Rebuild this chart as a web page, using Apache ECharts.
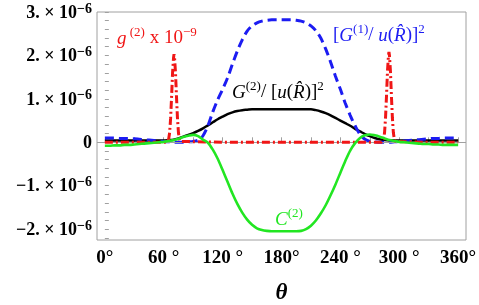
<!DOCTYPE html>
<html><head><meta charset="utf-8">
<script src="https://cdn.jsdelivr.net/npm/echarts@6/dist/echarts.min.js"></script>
<style>html,body{margin:0;padding:0;background:#fff}#c{width:479px;height:305px}</style>
</head><body><div id="c"></div>
<script>
// angle theta in degrees
const theta = [0,5,10,15,20,25,30,35,40,45,50,55,60,65,70,75,80,85,90,95,100,105,110,115,120,125,130,135,140,145,150,155,160,165,170,175,180,185,190,195,200,205,210,215,220,225,230,235,240,245,250,255,260,265,270,275,280,285,290,295,300,305,310,315,320,325,330,335,340,345,350,355,360];
// values in units of 1e-6
const g1Sq = [0.10,0.10,0.10,0.09,0.09,0.08,0.08,0.07,0.06,0.05,0.04,0.03,0.02,0.01,0.00,0.00,0.00,0.01,0.02,0.05,0.15,0.38,0.70,0.98,1.22,1.48,1.80,2.10,2.36,2.56,2.68,2.75,2.79,2.81,2.82,2.82,2.82,2.82,2.82,2.81,2.79,2.75,2.68,2.57,2.40,2.15,1.85,1.52,1.22,0.90,0.62,0.38,0.18,0.07,0.02,0.01,0.00,0.00,0.00,0.01,0.02,0.03,0.04,0.05,0.06,0.07,0.08,0.09,0.09,0.10,0.10,0.10,0.10];
const g2Norm = [0.04,0.04,0.04,0.04,0.04,0.04,0.04,0.04,0.04,0.04,0.04,0.04,0.04,0.05,0.06,0.09,0.13,0.17,0.21,0.26,0.32,0.39,0.46,0.53,0.59,0.65,0.69,0.72,0.74,0.75,0.76,0.76,0.76,0.76,0.76,0.76,0.76,0.76,0.76,0.76,0.76,0.76,0.76,0.74,0.71,0.67,0.62,0.56,0.50,0.44,0.38,0.31,0.25,0.19,0.14,0.10,0.07,0.05,0.04,0.04,0.04,0.04,0.04,0.04,0.04,0.04,0.04,0.04,0.04,0.04,0.04,0.04,0.04];
const c2 = [-0.08,-0.08,-0.07,-0.07,-0.06,-0.06,-0.05,-0.04,-0.03,-0.02,-0.01,0.00,0.01,0.03,0.05,0.08,0.12,0.15,0.17,0.14,0.06,-0.01,-0.17,-0.38,-0.64,-0.91,-1.18,-1.42,-1.62,-1.78,-1.90,-1.98,-2.02,-2.04,-2.05,-2.05,-2.05,-2.05,-2.05,-2.05,-2.04,-2.00,-1.92,-1.80,-1.64,-1.45,-1.22,-0.97,-0.70,-0.43,-0.19,-0.02,0.10,0.16,0.18,0.16,0.13,0.09,0.05,0.03,0.01,0.00,-0.01,-0.02,-0.03,-0.04,-0.04,-0.05,-0.05,-0.06,-0.06,-0.06,-0.06];
const redTheta = [0,30,60,63,64,65,66,67,68,69,70,70.5,71,72,73,74,75,76,77,78,120,180,240,282,283,284,285,286,287,288,289,289.5,290,291,292,293,294,295,296,297,330,360];
const g2Scaled = [0,0,0,0,0.02,0.07,0.22,0.55,1.05,1.60,1.95,2.03,1.95,1.60,1.05,0.55,0.22,0.07,0.02,0,0,0,0,0,0.02,0.07,0.22,0.56,1.07,1.64,2.00,2.08,2.00,1.64,1.07,0.56,0.22,0.07,0.02,0,0,0];
const xLabelValues = [0,60,120,180,240,300,360];
const xLabelText = ['0°','60 °','120 °','180°','240 °','300 °','360°'];
const xTickValues = [0,30,60,90,120,150,180,210,240,270,300,330,360];
const yLabelValues = [-2,-1,0,1,2,3];
const yTickValues = [-2.2,-2,-1.8,-1.6,-1.4,-1.2,-1,-0.8,-0.6,-0.4,-0.2,0,0.2,0.4,0.6,0.8,1,1.2,1.4,1.6,1.8,2,2.2,2.4,2.6,2.8,3];

const SERIF = 'Liberation Serif';
const pair = (xs, ys) => xs.map((x, i) => [x, ys[i]]);

const chart = echarts.init(document.getElementById('c'), null, {renderer: 'canvas'});
const supStyle = (c) => ({fontFamily: SERIF, fontSize: 13, lineHeight: 13, verticalAlign: 'top', fill: c});
const mainStyle = (c, italic) => ({fontFamily: SERIF, fontSize: 19, lineHeight: 22, verticalAlign: 'bottom', fontStyle: italic ? 'italic' : 'normal', fill: c});
function ann(x, y, text, c) {
  return {type: 'text', x: x, y: y, z: 100, style: {text: text, verticalAlign: 'middle', align: 'left',
    rich: {i: mainStyle(c, true), n: mainStyle(c, false), s: supStyle(c)}}};
}
const RED = '#f01616', BLUE = '#1c1cf2', GREEN = '#22e622';

chart.setOption({
  animation: false,
  backgroundColor: '#fff',
  grid: {left: 97, right: 13, top: 12, bottom: 65, show: true, borderColor: '#a0a0a0', borderWidth: 1, outerBoundsMode: 'none', containLabel: false},
  xAxis: {
    type: 'value', min: -8, max: 368,
    name: 'θ', nameLocation: 'middle', nameGap: 42,
    nameTextStyle: {fontFamily: SERIF, fontSize: 23, fontWeight: 'bold', fontStyle: 'italic', color: '#000'},
    axisLine: {show: false},
    splitLine: {show: false},
    axisTick: {show: true, inside: true, length: 5, customValues: xTickValues, lineStyle: {color: '#a0a0a0'}},
    axisLabel: {customValues: xLabelValues, margin: 9, color: '#000', fontFamily: SERIF, fontWeight: 'bold', fontSize: 19,
      formatter: (v) => { const k = xLabelValues.indexOf(Math.round(v)); return k >= 0 ? xLabelText[k] : ''; }}
  },
  yAxis: {
    type: 'value', min: -2.25, max: 3,
    axisLine: {show: false},
    splitLine: {show: false},
    axisTick: {show: true, inside: true, length: 4, customValues: yTickValues, lineStyle: {color: '#a0a0a0'}},
    axisLabel: {customValues: yLabelValues, margin: 5, color: '#000',
      formatter: (v) => {
        const n = Math.round(v);
        if (n === 0) return '{m|0}';
        return '{m|' + (n < 0 ? '−' : '') + Math.abs(n) + '. × 10}{s|−6}';
      },
      rich: {
        m: {fontFamily: SERIF, fontWeight: 'bold', fontSize: 18, lineHeight: 20, verticalAlign: 'bottom', color: '#000'},
        s: {fontFamily: SERIF, fontWeight: 'bold', fontSize: 14, lineHeight: 13, verticalAlign: 'top', color: '#000'}
      }
    }
  },
  series: [
    {name: 'G2', type: 'line', data: pair(theta, g2Norm), smooth: 0.3, showSymbol: false, z: 3,
      lineStyle: {color: '#000', width: 2.5},
      markLine: {silent: true, symbol: 'none', label: {show: false}, lineStyle: {color: '#a0a0a0', width: 1, type: 'solid'}, data: [{yAxis: 0}]}},
    {name: 'G1', type: 'line', data: pair(theta, g1Sq), smooth: 0.3, showSymbol: false, z: 4,
      lineStyle: {color: BLUE, width: 3, type: [9, 5]}},
    {name: 'g2', type: 'line', data: pair(redTheta, g2Scaled), smooth: false, showSymbol: false, z: 5,
      lineStyle: {color: RED, width: 3, type: [8, 3, 2, 3]}},
    {name: 'C2', type: 'line', data: pair(theta, c2), smooth: 0.3, showSymbol: false, z: 6,
      lineStyle: {color: GREEN, width: 2.6}}
  ],
  graphic: [
    ann(117, 37, '{i|g}{s| (2)}{n| x 10}{s|−9}', RED),
    ann(333, 34, '{n|[}{i|G}{s|(1)}{n|/ }{i|u}{n|(}{i|R̂}{n|)]}{s|2}', BLUE),
    ann(232, 91, '{i|G}{s|(2)}{n|/ [}{i|u}{n|(}{i|R̂}{n|)]}{s|2}', '#000'),
    ann(275, 218, '{i|C}{s|(2)}', GREEN)
  ]
});
</script>
</body></html>
